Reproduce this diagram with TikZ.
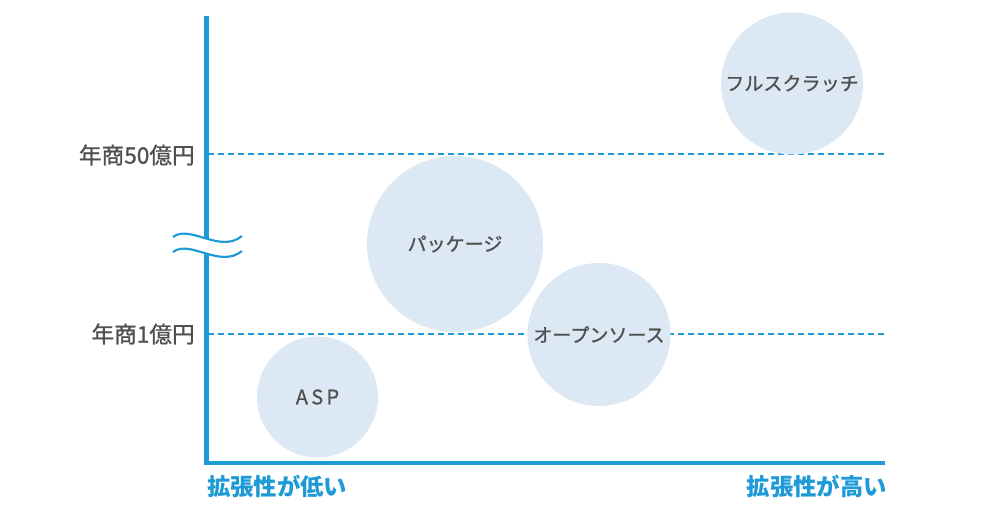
\documentclass[tikz,border=0pt]{standalone}
\usepackage{fontspec}
\newfontfamily\cjk{Noto Sans CJK JP}
\newfontfamily\cjkmed[FakeBold=0.9]{Noto Sans CJK JP}
\definecolor{axisblue}{HTML}{1E9AD6}
\definecolor{bubble}{HTML}{DCE8F4}
\definecolor{txtgray}{HTML}{505050}
\begin{document}
\begin{tikzpicture}[x=0.75pt,y=-0.75pt,
  axisline/.style={draw=axisblue,line width=3.4pt},
  levelline/.style={draw=axisblue,line width=1.5pt,dash pattern=on 4.5pt off 3pt},
  bubblenode/.style={circle,fill=bubble,inner sep=0pt,text=txtgray,font=\cjkmed\fontsize{14.3}{16}\selectfont},
  ylabel/.style={anchor=east,text=txtgray,inner sep=0pt,font=\cjkmed\fontsize{17}{19}\selectfont},
  xlabel/.style={text=axisblue,inner sep=0pt,font=\cjk\bfseries\fontsize{17.5}{19}\selectfont},
  wave/.style={draw=axisblue,line width=1.6pt}]
\useasboundingbox (0,0) rectangle (1000,514);
% level lines
\coordinate (l50a) at (208,154);
\coordinate (l50b) at (885,154);
\coordinate (l1a) at (208,334);
\coordinate (l1b) at (885,334);
\draw[levelline] (l50a) -- (l50b);
\draw[levelline] (l1a) -- (l1b);
% axes
\coordinate (top) at (206.5,16);
\coordinate (corner) at (206.5,463);
\coordinate (right) at (885,463);
\draw[axisline] (top) -- (corner) -- (right);
% axis break
\coordinate (w1s) at (173,237);
\coordinate (w1e) at (242,236);
\coordinate (w2s) at (173,252);
\coordinate (w2e) at (242,251);
\fill[white] (w1s) .. controls (190,224) and (220,254) .. (w1e) -- (w2e) .. controls (220,269) and (190,239) .. (w2s) -- cycle;
\draw[wave] (w1s) .. controls (190,224) and (220,254) .. (w1e);
\draw[wave] (w2s) .. controls (190,239) and (220,269) .. (w2e);
% bubbles
\node[bubblenode,minimum size=142pt*0.75] (full) at (792,83.5) {フルスクラッチ};
\node[bubblenode,minimum size=176pt*0.75] (pkg) at (455,244) {パッケージ};
\node[bubblenode,minimum size=143pt*0.75] (oss) at (599,334.5) {オープンソース};
\node[bubblenode,minimum size=121pt*0.75] (asp) at (317.5,397) {\fontsize{15}{17}\selectfont A\,S\,P};
% labels
\node[ylabel] (y50) at (195,155) {年商50億円};
\node[ylabel] (y1) at (195,334) {年商1億円};
\node[xlabel,anchor=west] (xlow) at (207,486) {拡張性が低い};
\node[xlabel,anchor=east] (xhigh) at (887,486) {拡張性が高い};
\end{tikzpicture}
\end{document}
